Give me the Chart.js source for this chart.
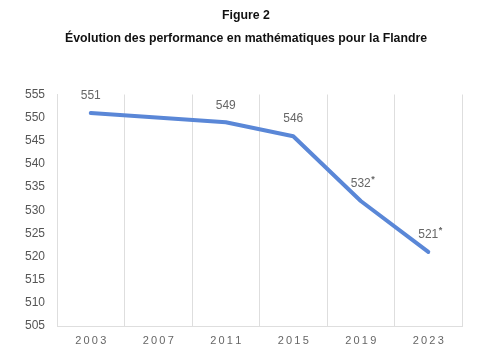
<!DOCTYPE html>
<html>
<head>
<meta charset="utf-8">
<script src="https://cdn.jsdelivr.net/npm/chart.js@4"></script>
<style>
  html, body { margin: 0; padding: 0; background: #fff; }
  #wrap { width: 485px; height: 360px; }
</style>
</head>
<body>
<div id="wrap"><canvas id="chart" width="485" height="360"></canvas></div>
<script>
// data
const years = ['2003', '2007', '2011', '2015', '2019', '2023'];
const scores = [551, null, 549, 546, 532, 521];   // no data for 2007
const significant = [false, false, false, false, true, true]; // asterisk
const yTicks = { min: 505, max: 555, step: 5 };

const lineColor = '#5A87D7';
const textGray = '#666';
const fontFam = '"Liberation Sans", Arial, sans-serif';

// value labels above the points, with the little asterisk
const valueLabels = {
    id: 'valueLabels',
    afterDatasetsDraw(chart) {
        const ctx = chart.ctx;
        const meta = chart.getDatasetMeta(0);
        ctx.save();
        ctx.fillStyle = textGray;
        ctx.textBaseline = 'middle';
        meta.data.forEach((pt, i) => {
            const v = scores[i];
            if (v === null) return;
            const txt = String(v);
            ctx.font = '12px ' + fontFam;
            ctx.textAlign = 'center';
            ctx.fillText(txt, pt.x, pt.y - 17);
            if (significant[i]) {
                const w = ctx.measureText(txt).width;
                ctx.font = 'bold 9px ' + fontFam;
                ctx.textAlign = 'left';
                ctx.fillText('*', pt.x + w / 2 + 0.5, pt.y - 21);
            }
        });
        ctx.restore();
    }
};

const ctx = document.getElementById('chart').getContext('2d');

new Chart(ctx, {
    type: 'line',
    data: {
        labels: years,
        datasets: [{
            data: scores,
            borderColor: lineColor,
            borderWidth: 4,
            borderCapStyle: 'round',
            borderJoinStyle: 'round',
            pointRadius: 0,
            tension: 0,
            spanGaps: true
        }]
    },
    options: {
        responsive: false,
        animation: false,
        layout: { padding: { left: 7, right: 0, top: 0, bottom: 0 } },
        plugins: {
            legend: { display: false },
            tooltip: { enabled: false },
            title: {
                display: true,
                text: 'Figure 2',
                color: '#111',
                font: { family: fontFam, size: 12.3, weight: 'bold' },
                padding: { top: 8, bottom: 8 }
            },
            subtitle: {
                display: true,
                text: 'Évolution des performance en mathématiques pour la Flandre',
                color: '#111',
                font: { family: fontFam, size: 12.3, weight: 'bold' },
                padding: { top: 0, bottom: 49 }
            }
        },
        scales: {
            x: {
                offset: true,
                grid: { offset: true, color: '#dedede', drawTicks: false },
                border: { color: '#dedede' },
                ticks: {
                    color: textGray,
                    padding: 8,
                    font: { family: fontFam, size: 11 },
                    callback: function (val) {
                        return this.getLabelForValue(val).split('').join('\u2009');
                    }
                },
                afterFit: (s) => { s.height = 34; }
            },
            y: {
                min: yTicks.min,
                max: yTicks.max,
                grid: { color: 'transparent', drawTicks: false },
                border: { color: '#dedede' },
                ticks: {
                    stepSize: yTicks.step,
                    color: '#555',
                    padding: 12,
                    font: { family: fontFam, size: 12 }
                },
                afterFit: (s) => { s.width = 50; }
            },
            // empty right margin axis
            yRight: {
                position: 'right',
                grid: { display: false },
                border: { display: false },
                ticks: { display: false },
                afterFit: (s) => { s.width = 23; }
            }
        }
    },
    plugins: [valueLabels]
});
</script>
</body>
</html>
